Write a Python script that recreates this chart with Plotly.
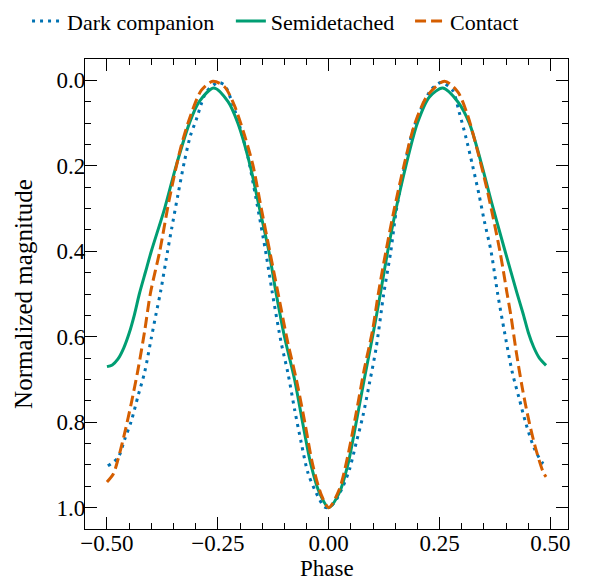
import plotly.graph_objects as go

# ---- data ----
phase_dark = [-0.498, -0.475, -0.460, -0.445, -0.430, -0.415, -0.400, -0.389, -0.379, -0.364,
              -0.354, -0.340, -0.325, -0.312, -0.298, -0.287, -0.276, -0.250, -0.235, -0.217,
              -0.198, -0.183, -0.164, -0.141, -0.128, -0.107, -0.092, -0.077, -0.062, -0.047,
              -0.029, -0.010, 0.000, 0.013, 0.031, 0.047, 0.062, 0.077, 0.092, 0.107,
              0.124, 0.140, 0.152, 0.170, 0.189, 0.212, 0.230, 0.253, 0.279, 0.294,
              0.309, 0.324, 0.339, 0.351, 0.366, 0.381, 0.396, 0.414, 0.429, 0.444,
              0.463, 0.482, 0.490]
mag_dark = [0.902, 0.883, 0.840, 0.797, 0.739, 0.683, 0.603, 0.545, 0.494, 0.404,
            0.346, 0.268, 0.188, 0.130, 0.090, 0.054, 0.027, 0.005, 0.011, 0.054,
            0.117, 0.175, 0.276, 0.408, 0.492, 0.615, 0.685, 0.770, 0.848, 0.918,
            0.964, 0.998, 1.000, 0.988, 0.953, 0.910, 0.848, 0.786, 0.708, 0.626,
            0.500, 0.400, 0.307, 0.206, 0.120, 0.058, 0.023, 0.005, 0.023, 0.074,
            0.132, 0.198, 0.268, 0.330, 0.400, 0.500, 0.587, 0.684, 0.743, 0.801,
            0.860, 0.895, 0.900]

phase_semi = [-0.500, -0.488, -0.475, -0.462, -0.450, -0.438, -0.427, -0.413, -0.400, -0.370,
              -0.344, -0.314, -0.292, -0.259, -0.227, -0.205, -0.177, -0.156, -0.135, -0.119,
              -0.100, -0.077, -0.059, -0.040, -0.021, 0.000, 0.024, 0.043, 0.062, 0.080,
              0.099, 0.117, 0.133, 0.152, 0.174, 0.200, 0.227, 0.257, 0.291, 0.317,
              0.343, 0.367, 0.395, 0.424, 0.438, 0.450, 0.462, 0.475, 0.490]
mag_semi = [0.670, 0.666, 0.652, 0.626, 0.592, 0.548, 0.500, 0.448, 0.400, 0.300,
            0.200, 0.100, 0.050, 0.018, 0.050, 0.100, 0.200, 0.300, 0.400, 0.496,
            0.599, 0.700, 0.800, 0.900, 0.965, 1.000, 0.965, 0.900, 0.800, 0.700,
            0.599, 0.496, 0.400, 0.300, 0.200, 0.100, 0.039, 0.018, 0.050, 0.100,
            0.190, 0.285, 0.390, 0.496, 0.545, 0.590, 0.624, 0.650, 0.667]

phase_contact = [-0.500, -0.486, -0.475, -0.460, -0.445, -0.430, -0.415, -0.402, -0.381, -0.359,
                 -0.332, -0.310, -0.287, -0.261, -0.235, -0.213, -0.190, -0.171, -0.152, -0.133,
                 -0.115, -0.092, -0.073, -0.054, -0.036, -0.016, 0.000, 0.024, 0.043, 0.062,
                 0.080, 0.099, 0.112, 0.129, 0.148, 0.170, 0.193, 0.223, 0.261, 0.291,
                 0.313, 0.336, 0.358, 0.386, 0.402, 0.411, 0.422, 0.437, 0.452, 0.467,
                 0.484, 0.490]
mag_contact = [0.940, 0.922, 0.887, 0.825, 0.755, 0.677, 0.587, 0.498, 0.400, 0.276,
               0.151, 0.078, 0.023, 0.002, 0.015, 0.058, 0.128, 0.198, 0.300, 0.400,
               0.494, 0.615, 0.700, 0.800, 0.900, 0.972, 1.000, 0.957, 0.879, 0.778,
               0.677, 0.584, 0.498, 0.400, 0.300, 0.198, 0.105, 0.035, 0.002, 0.027,
               0.081, 0.167, 0.260, 0.400, 0.498, 0.552, 0.630, 0.723, 0.800, 0.863,
               0.918, 0.928]

series_names = ["Dark companion", "Semidetached", "Contact"]
series_colors = ["#0072B2", "#009E73", "#D55E00"]
series_dash = ["3px,5px", "solid", "11px,5px"]
legend_ids = ["legend", "legend2", "legend3"]
legend_x = [-0.120, 0.302, 0.673]

FONT = "Liberation Serif"

fig = go.Figure()
for name, px_, mg, col, dsh, lid in zip(series_names,
                                        [phase_dark, phase_semi, phase_contact],
                                        [mag_dark, mag_semi, mag_contact],
                                        series_colors, series_dash, legend_ids):
    fig.add_trace(go.Scatter(x=px_, y=mg, mode="lines", name=name, legend=lid,
                             line=dict(color=col, width=3, dash=dsh, shape="spline", smoothing=0.8)))

axis_common = dict(showline=True, linecolor="black", linewidth=1.3, mirror="ticks",
                   ticks="inside", ticklen=12, tickwidth=1.3, tickcolor="black",
                   showgrid=False, zeroline=False,
                   tickfont=dict(family=FONT, size=23, color="black"))

fig.update_xaxes(range=[-0.5495, 0.5395], dtick=0.25, tick0=0, tickformat=".2f",
                 ticklabelstandoff=-7,
                 minor=dict(dtick=0.05, tick0=0, ticks="inside", ticklen=6, tickwidth=1.2, tickcolor="black"),
                 **axis_common)
fig.update_yaxes(range=[1.05, -0.05], dtick=0.2, tick0=0, tickformat=".1f",
                 ticklabelstandoff=-6,
                 minor=dict(dtick=0.05, tick0=0, ticks="inside", ticklen=6, tickwidth=1.2, tickcolor="black"),
                 title=dict(text="Normalized magnitude", font=dict(family=FONT, size=25, color="black"), standoff=16),
                 **axis_common)

legend_common = dict(orientation="h", xanchor="left", y=1.125, yanchor="top",
                     font=dict(family=FONT, size=22, color="black"),
                     bgcolor="rgba(0,0,0,0)", borderwidth=0)

fig.update_layout(
    width=616, height=582,
    margin=dict(l=85, r=48, t=59, b=53, pad=0, autoexpand=False),
    paper_bgcolor="white", plot_bgcolor="white",
    showlegend=True,
    legend=dict(x=legend_x[0], **legend_common),
    legend2=dict(x=legend_x[1], **legend_common),
    legend3=dict(x=legend_x[2], **legend_common),
    annotations=[dict(text="Phase", xref="paper", yref="paper", x=0.5, y=0,
                      xanchor="center", yanchor="top", yshift=-25, showarrow=False,
                      font=dict(family=FONT, size=23, color="black"))],
)

fig.write_html("out.html")
